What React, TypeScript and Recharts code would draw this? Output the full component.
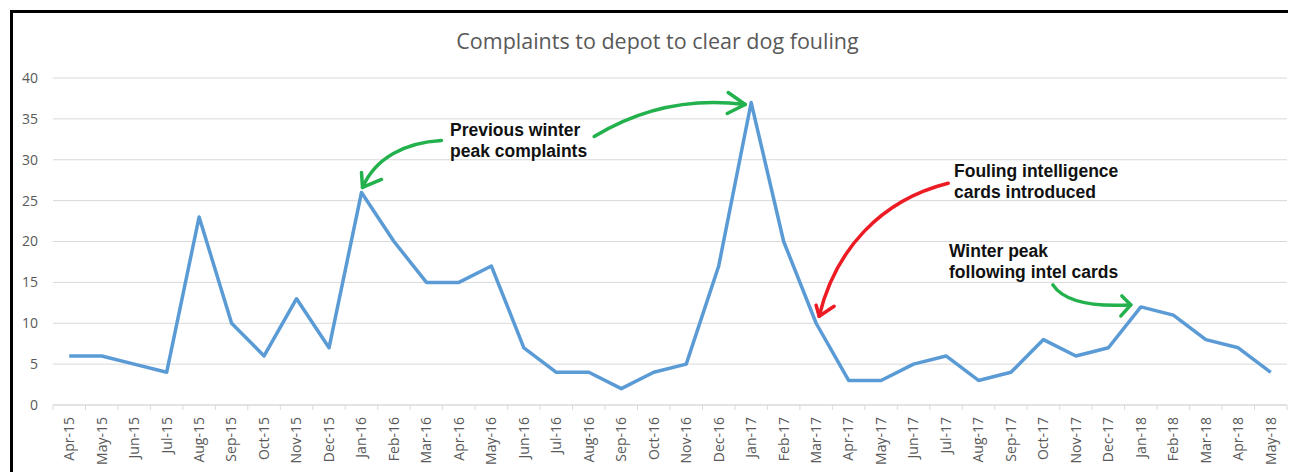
import React from 'react';
import {
  LineChart,
  Line,
  XAxis,
  YAxis,
  CartesianGrid,
  ReferenceDot,
  Customized
} from 'recharts';

// Monthly complaints, Apr-15 .. May-18
const months = [
  'Apr-15', 'May-15', 'Jun-15', 'Jul-15', 'Aug-15', 'Sep-15', 'Oct-15', 'Nov-15', 'Dec-15',
  'Jan-16', 'Feb-16', 'Mar-16', 'Apr-16', 'May-16', 'Jun-16', 'Jul-16', 'Aug-16', 'Sep-16',
  'Oct-16', 'Nov-16', 'Dec-16', 'Jan-17', 'Feb-17', 'Mar-17', 'Apr-17', 'May-17', 'Jun-17',
  'Jul-17', 'Aug-17', 'Sep-17', 'Oct-17', 'Nov-17', 'Dec-17', 'Jan-18', 'Feb-18', 'Mar-18',
  'Apr-18', 'May-18'
];
const complaints = [
  6, 6, 5, 4, 23, 10, 6, 13, 7,
  26, 20, 15, 15, 17, 7, 4, 4, 2,
  4, 5, 17, 37, 20, 10, 3, 3, 5,
  6, 3, 4, 8, 6, 7, 12, 11, 8,
  7, 4
];
const yTicks = [0, 5, 10, 15, 20, 25, 30, 35, 40];

const TITLE = 'Complaints to depot to clear dog fouling';

const data = months.map((m, i) => ({ name: m, value: complaints[i] }));

const CHART_W = 1283;
const CHART_H = 459;
const MARGIN = { top: 65, right: 9, left: 0, bottom: 7 };
const Y_W = 40;
const BAND = (CHART_W - MARGIN.left - MARGIN.right - Y_W) / months.length;

const GREEN = '#22b14c';
const RED = '#ed1c24';
const LABEL = '#595959';

// arrow shapes, offsets from the data point they point at
type Arrow = { at: string; color: string; d: number[]; arms: number[][] };
const arrows: Arrow[] = [
  { at: 'Jan-16', color: GREEN, d: [80, -52, 44, -50, 14, -35, 1, -5], arms: [[0, -20], [20, -13]] },
  { at: 'Jan-17', color: GREEN, d: [-157, 34, -111, 6, -61, -5, -6, 2], arms: [[-23, -10], [-24, 11]] },
  { at: 'Mar-17', color: RED, d: [132, -140, 64, -123, 19, -73, 3, -7], arms: [[0, -18], [18, -17]] },
  { at: 'Jan-18', color: GREEN, d: [-88, -22, -76, -4, -46, 0, -10, -2], arms: [[-19, -11], [-20, 9]] }
];

const notes = [
  { x: 437, y: 122.7, lines: ['Previous winter', 'peak complaints'] },
  { x: 941, y: 163.7, lines: ['Fouling intelligence', 'cards introduced'] },
  { x: 936, y: 243.7, lines: ['Winter peak', 'following intel cards'] }
];

const arrowShape = (a: Arrow) => (props: any) => {
  const { cx, cy } = props;
  const [sx, sy, c1x, c1y, c2x, c2y, tx, ty] = a.d;
  const tipX = cx + tx;
  const tipY = cy + ty;
  return (
    <g fill="none" stroke={a.color} strokeWidth={3.5} strokeLinecap="round" strokeLinejoin="round">
      <path d={`M${cx + sx},${cy + sy} C${cx + c1x},${cy + c1y} ${cx + c2x},${cy + c2y} ${tipX},${tipY}`} />
      <path d={`M${cx + a.arms[0][0]},${cy + a.arms[0][1]} L${tipX},${tipY} L${cx + a.arms[1][0]},${cy + a.arms[1][1]}`} />
    </g>
  );
};

const XTick = (props: any) => {
  const { x, y, payload, index } = props;
  const half = BAND / 2;
  return (
    <g>
      <line x1={x - half} y1={y - 8} x2={x - half} y2={y - 3} stroke="#d9d9d9" />
      {index === months.length - 1 && (
        <line x1={x + half} y1={y - 8} x2={x + half} y2={y - 3} stroke="#d9d9d9" />
      )}
      <text
        x={x}
        y={y + 4}
        transform={`rotate(-90 ${x} ${y + 4})`}
        textAnchor="end"
        dy="0.35em"
        fill={LABEL}
        fontSize={14}
        fontFamily="'Open Sans', sans-serif"
      >
        {payload.value}
      </text>
    </g>
  );
};

const Notes = () => (
  <g fontFamily="'Liberation Sans', Arial, sans-serif" fontWeight="bold" fontSize={17.5} fill="#111">
    {notes.map((n) =>
      n.lines.map((l, i) => (
        <text key={n.x + l} x={n.x} y={n.y + i * 21.3}>
          {l}
        </text>
      ))
    )}
  </g>
);

export default function App() {
  return (
    <div style={{ padding: '2px 0 0 2px' }}>
      <div
        style={{
          borderTop: '3px solid #000',
          borderLeft: '3px solid #000',
          width: CHART_W,
          height: CHART_H,
          background: '#fff',
          position: 'relative'
        }}
      >
        <div
          style={{
            position: 'absolute',
            top: 13,
            left: 0,
            width: 1289,
            textAlign: 'center',
            fontFamily: "'Open Sans', sans-serif",
            fontSize: 21.5,
            color: LABEL
          }}
        >
          {TITLE}
        </div>
        <LineChart width={CHART_W} height={CHART_H} data={data} margin={MARGIN}>
          <CartesianGrid vertical={false} stroke="#d9d9d9" />
          <XAxis
            dataKey="name"
            interval={0}
            height={60}
            padding={{ left: BAND / 2, right: BAND / 2 }}
            axisLine={{ stroke: '#d9d9d9' }}
            tickLine={false}
            tick={<XTick />}
          />
          <YAxis
            width={Y_W}
            domain={[0, 40]}
            ticks={yTicks}
            axisLine={false}
            tickLine={false}
            tickSize={0}
            tickMargin={15}
            tick={{ fill: LABEL, fontSize: 14, fontFamily: "'Open Sans', sans-serif" }}
          />
          <Line
            type="linear"
            dataKey="value"
            stroke="#5b9bd5"
            strokeWidth={3.5}
            strokeLinejoin="round"
            dot={false}
            activeDot={false}
            isAnimationActive={false}
          />
          {arrows.map((a) => (
            <ReferenceDot
              key={a.at}
              x={a.at}
              y={complaints[months.indexOf(a.at)]}
              r={0}
              ifOverflow="visible"
              shape={arrowShape(a)}
            />
          ))}
          <Customized component={<Notes />} />
        </LineChart>
      </div>
    </div>
  );
}
